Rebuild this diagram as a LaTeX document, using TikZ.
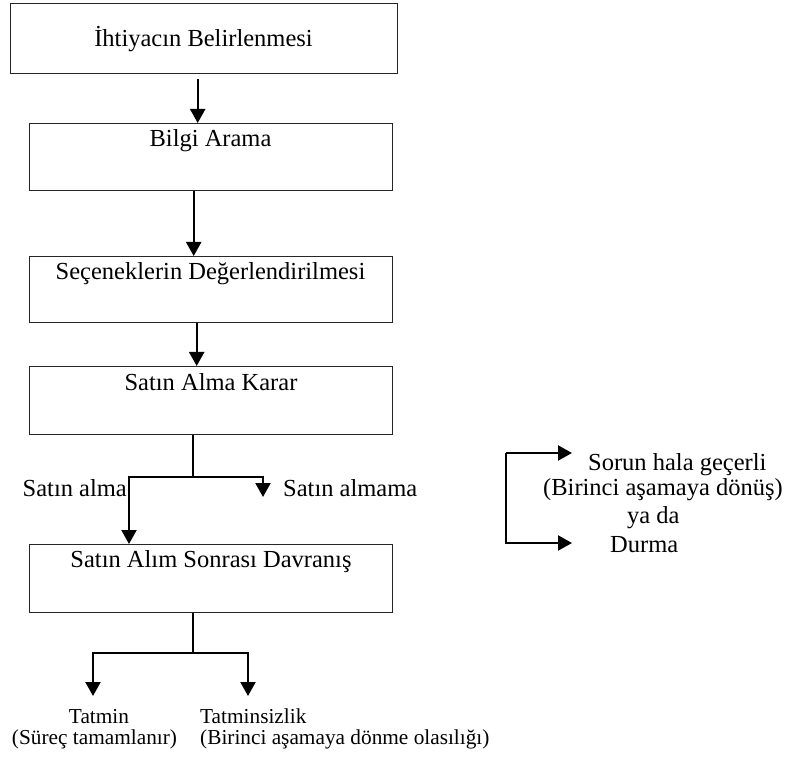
\documentclass[tikz,border=0pt]{standalone}
\usepackage{fontspec}
\setmainfont{Liberation Serif}
\usetikzlibrary{arrows.meta}
\begin{document}
\begin{tikzpicture}[x=1pt,y=-1pt,
  box/.style={draw=black!85,line width=1.4pt,minimum width=363pt,minimum height=67pt,inner sep=0pt,anchor=north west},
  txt/.style={inner sep=0pt,font=\fontsize{24.5}{28}\selectfont},
  stxt/.style={inner sep=0pt,font=\fontsize{21.3}{24}\selectfont},
  con/.style={line width=2.2pt},
  arr/.style={line width=2.2pt,-{Triangle[width=15pt,length=14pt]}}]
\useasboundingbox (0,0) rectangle (788,762);
% boxes
\node[box,minimum width=387pt,minimum height=70pt] (b1) at (10,3) {};
\node[box] (b2) at (29,123) {};
\node[box,minimum height=66pt] (b3) at (29,256) {};
\node[box,minimum height=68pt] (b4) at (29,366) {};
\node[box,minimum height=68pt] (b5) at (29,544) {};
% box texts
\node[txt,anchor=base] (t1) at (203.5,47) {İhtiyacın Belirlenmesi};
\node[txt,anchor=base] (t2) at (210.5,147) {Bilgi Arama};
\node[txt,anchor=base] (t3) at (210.5,280) {Seçeneklerin Değerlendirilmesi};
\node[txt,anchor=base] (t4) at (211,390) {Satın Alma Karar};
\node[txt,anchor=base] (t5) at (211,567) {Satın Alım Sonrası Davranış};
% main arrows
\draw[arr] ([xshift=-6.5pt,yshift=-5pt]b1.south) -- ([xshift=-13.5pt]b2.north);
\draw[arr] ([xshift=-17.5pt]b2.south) -- ([xshift=-17.5pt]b3.north);
\draw[arr] ([xshift=-14.5pt]b3.south) -- ([xshift=-14.5pt]b4.north);
% decision branch
\coordinate (j1) at (193,477);
\coordinate (jl) at (129,477);
\coordinate (jr) at (263,477);
\coordinate (nb) at (263,497);
\draw[con] (b4.south -| j1) -- (j1);
\draw[arr] (j1) -- (jl) -- (jl |- b5.north);
\draw[arr] (j1) -- (jr) -- (nb);
\node[txt,anchor=base east] (sa) at (127,496) {Satın alma};
\node[txt,anchor=base west] (sn) at (283,496) {Satın almama};
% post purchase branch
\coordinate (j2) at (193,653);
\coordinate (kl) at (93,653);
\coordinate (kr) at (248,653);
\coordinate (kla) at (93,696);
\coordinate (kra) at (248,696);
\draw[con] (b5.south -| j2) -- (j2);
\draw[arr] (j2) -- (kl) -- (kla);
\draw[arr] (j2) -- (kr) -- (kra);
\node[stxt,anchor=base] (ta) at (99,723) {Tatmin};
\node[stxt,anchor=base] (tb) at (94.5,744) {(Süreç tamamlanır)};
\node[stxt,anchor=base west] (tc) at (200,723) {Tatminsizlik};
\node[stxt,anchor=base west] (td) at (200,744) {(Birinci aşamaya dönme olasılığı)};
% right group
\coordinate (r1) at (506,453);
\coordinate (r2) at (506,543);
\coordinate (r1e) at (572,453);
\coordinate (r2e) at (572,543);
\draw[arr] (r1) -- (r1e);
\draw[arr] (r1) -- (r2) -- (r2e);
\node[txt,anchor=base west] (ra) at (588,470) {Sorun hala geçerli};
\node[txt,anchor=base west] (rb) at (543,495) {(Birinci aşamaya dönüş)};
\node[txt,anchor=base west] (rc) at (627,523) {ya da};
\node[txt,anchor=base west] (rd) at (610,552) {Durma};
\end{tikzpicture}
\end{document}
